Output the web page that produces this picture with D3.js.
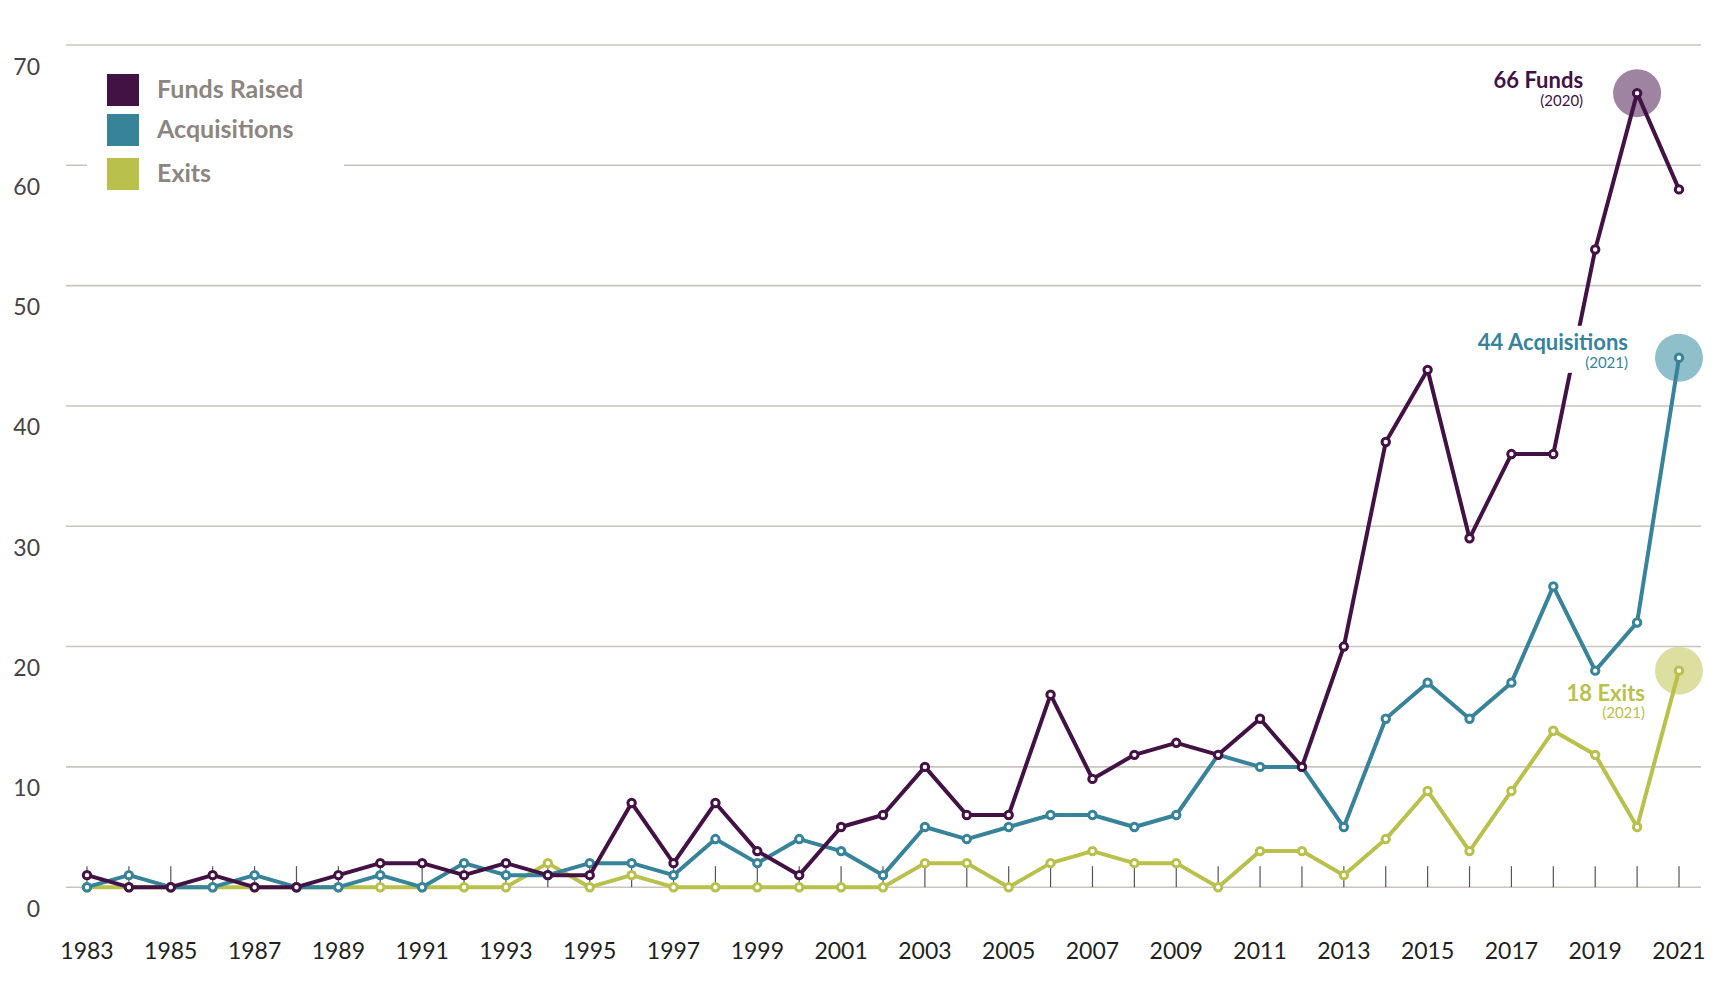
<!DOCTYPE html>
<html><head><meta charset="utf-8">
<script src="https://cdn.jsdelivr.net/npm/d3@7"></script>
<style>
html,body{margin:0;padding:0;background:#fff;}
svg{display:block;}
text{font-family:Lato,"Open Sans",sans-serif;}
</style></head><body>
<svg id="chart" width="1730" height="984"></svg>
<script>
const years = [1983,1984,1985,1986,1987,1988,1989,1990,1991,1992,1993,1994,1995,1996,1997,1998,1999,2000,2001,2002,2003,2004,2005,2006,2007,2008,2009,2010,2011,2012,2013,2014,2015,2016,2017,2018,2019,2020,2021];
const fundsRaised = [1,0,0,1,0,0,1,2,2,1,2,1,1,7,2,7,3,1,5,6,10,6,6,16,9,11,12,11,14,10,20,37,43,29,36,36,53,66,58];
const acquisitions = [0,1,0,0,1,0,0,1,0,2,1,1,2,2,1,4,2,4,3,1,5,4,5,6,6,5,6,11,10,10,5,14,17,14,17,25,18,22,44];
const exits = [0,0,0,0,0,0,0,0,0,0,0,2,0,1,0,0,0,0,0,0,2,2,0,2,3,2,2,0,3,3,1,4,8,3,8,13,11,5,18];
const yTicks = [0,10,20,30,40,50,60,70];
const xTickLabels = [1983,1985,1987,1989,1991,1993,1995,1997,1999,2001,2003,2005,2007,2009,2011,2013,2015,2017,2019,2021];
const seriesNames = ["Funds Raised","Acquisitions","Exits"];
const seriesColors = ["#421244","#37839a","#b9c04c"];
const haloColors = ["#9e84a1","#8fbfca","#dcdf9f"];
const annotationSeries = [0,1,2];
const annotationYears = [2020,2021,2021];
const annotationTitles = ["66 Funds","44 Acquisitions","18 Exits"];
const annotationSubs = ["(2020)","(2021)","(2021)"];

const seriesValues = [fundsRaised, acquisitions, exits];

const svg = d3.select("#chart");
const x = d3.scaleLinear().domain([1983,2021]).range([87,1679]);
const y = d3.scaleLinear().domain([0,70]).range([887.2,45]);
const gridX0 = 66, gridX1 = 1701;

// gridlines
svg.append("g").selectAll("line").data(yTicks).join("line")
  .attr("x1",gridX0).attr("x2",gridX1)
  .attr("y1",d=>y(d)).attr("y2",d=>y(d))
  .attr("stroke","#c8c4bf").attr("stroke-width",1.6);

// y labels (sit below gridline)
svg.append("g").selectAll("text").data(yTicks).join("text")
  .attr("x",40).attr("y",d=>y(d)+29.5)
  .attr("text-anchor","end")
  .attr("font-size",23).attr("fill","#4a4242")
  .text(d=>d);

// year ticks
svg.append("g").selectAll("line").data(years).join("line")
  .attr("x1",d=>x(d)).attr("x2",d=>x(d))
  .attr("y1",y(0)).attr("y2",y(0)-21)
  .attr("stroke","#555").attr("stroke-width",1.2);

// x labels
svg.append("g").selectAll("text").data(xTickLabels).join("text")
  .attr("x",d=>x(d)).attr("y",959)
  .attr("text-anchor","middle")
  .attr("font-size",23).attr("fill","#231f20")
  .text(d=>d);

// legend
const legend = svg.append("g");
legend.append("rect").attr("x",87).attr("y",56).attr("width",257).attr("height",148).attr("fill","#fff");
const legendSquareY = [74,114,158];
seriesNames.forEach((name,i)=>{
  legend.append("rect").attr("x",107).attr("y",legendSquareY[i]).attr("width",32).attr("height",32).attr("fill",seriesColors[i]);
  legend.append("text").attr("x",157).attr("y",legendSquareY[i]+24)
    .attr("font-size",25).attr("font-weight",700).attr("fill","#8c8580").text(name);
});

// halo circles
const halos = svg.append("g");
annotationSeries.forEach((s,i)=>{
  const yr = annotationYears[i];
  const v = seriesValues[s][years.indexOf(yr)];
  halos.append("circle").attr("cx",x(yr)).attr("cy",y(v)).attr("r",24).attr("fill",haloColors[s]);
});

// lines (exits bottom, funds on top)
const line = d3.line().x((d,i)=>x(years[i])).y(d=>y(d));
const order = [2,1,0];
order.forEach(s=>{
  svg.append("path").datum(seriesValues[s])
    .attr("d",line).attr("fill","none")
    .attr("stroke",seriesColors[s]).attr("stroke-width",4)
    .attr("stroke-linejoin","round");
  svg.append("g").selectAll("circle").data(seriesValues[s]).join("circle")
    .attr("cx",(d,i)=>x(years[i])).attr("cy",d=>y(d)).attr("r",3.7)
    .attr("fill","#fff").attr("stroke",seriesColors[s]).attr("stroke-width",3);
});

// annotations
const annoOffsets = [
  {dx:-54, dy1:-5, dy2:13},
  {dx:-51, dy1:-8, dy2:10},
  {dx:-34, dy1:30, dy2:47}
];
annotationSeries.forEach((s,i)=>{
  const yr = annotationYears[i];
  const v = seriesValues[s][years.indexOf(yr)];
  const px = x(yr), py = y(v), o = annoOffsets[i];
  const g = svg.append("g");
  const bg = g.append("rect").attr("fill","#fff");
  g.append("text").attr("x",px+o.dx).attr("y",py+o.dy1).attr("text-anchor","end")
    .attr("font-size",22).attr("font-weight",700).attr("fill",seriesColors[s]).text(annotationTitles[i]);
  g.append("text").attr("x",px+o.dx).attr("y",py+o.dy2).attr("text-anchor","end")
    .attr("font-size",15).attr("fill",seriesColors[s]).text(annotationSubs[i]);
  const bb = g.node().getBBox();
  bg.attr("x",bb.x-3).attr("y",bb.y-2).attr("width",bb.width+6).attr("height",bb.height+4);
});
</script>
</body></html>
